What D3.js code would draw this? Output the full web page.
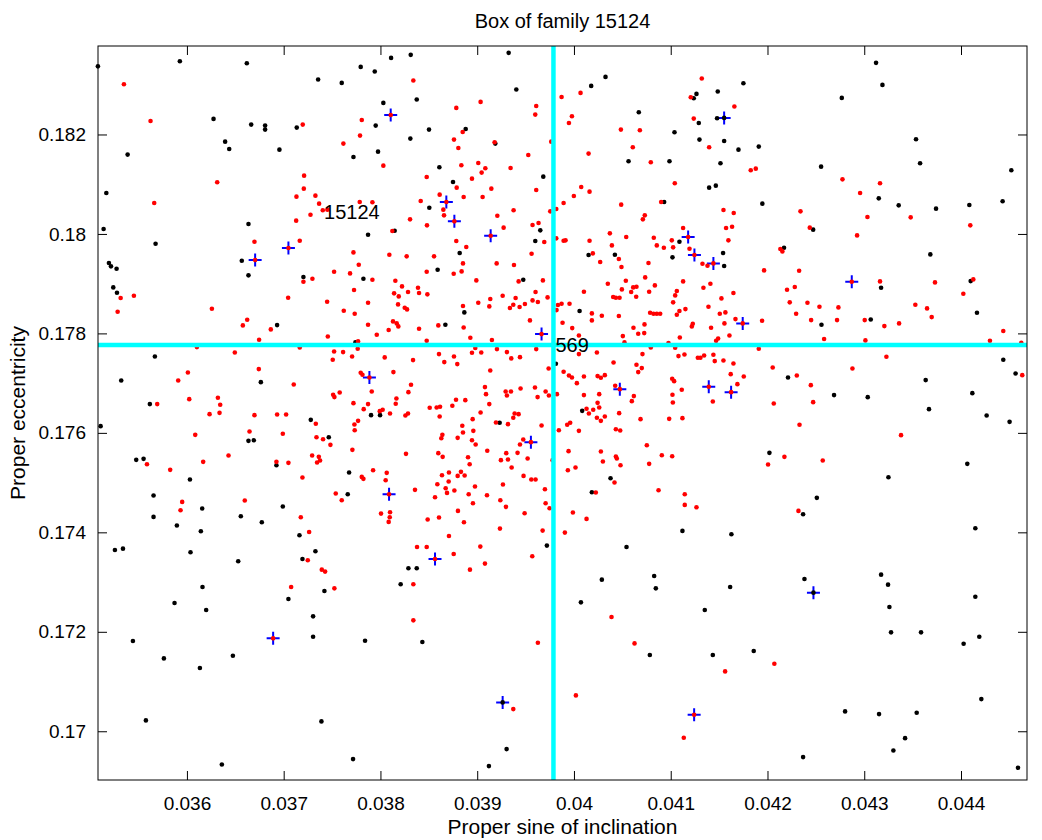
<!DOCTYPE html>
<html>
<head>
<meta charset="utf-8">
<script src="https://cdn.jsdelivr.net/npm/d3@7"></script>
<style>
  body { margin: 0; background: #fff; }
  svg text { font-family: "Liberation Sans", Arial, Helvetica, sans-serif; }
</style>
</head>
<body>
<div id="chart"></div>
<script>
// Box of family 15124: proper sin(i) vs proper e

const title = "Box of family 15124";
const xLabel = "Proper sine of inclination";
const yLabel = "Proper eccentricity";
const xTicks = [0.036, 0.037, 0.038, 0.039, 0.040, 0.041, 0.042, 0.043, 0.044];
const yTicks = [0.170, 0.172, 0.174, 0.176, 0.178, 0.180, 0.182];
const xDomain = [0.035081, 0.044682];
const yDomain = [0.16902, 0.183779];

// crosshair through asteroid 569
const centre = [0.039788, 0.177765];
const labels = [
  { text: "15124", x: 0.037397, y: 0.180451 },
  { text: "569", x: 0.039788, y: 0.177765 }
];

// background asteroids in the box (black)
const blackPts = [
  [0.03508,0.18337],[0.035927,0.183473],[0.036619,0.183433],[0.037356,0.183104],[0.036275,0.182313],[0.036664,0.182199],[0.036808,0.182178],[0.036808,0.182098],[0.037135,0.182138],[0.036395,0.181856],[0.036437,0.181709],[0.036956,0.181695],[0.035387,0.181595],[0.035167,0.180823],[0.035139,0.180099],[0.036636,0.1802],[0.035676,0.179804],[0.036567,0.179462],[0.035194,0.179415],[0.035215,0.179348],[0.035273,0.179301],[0.036636,0.179167],[0.037204,0.179133],[0.035239,0.178925],
  [0.03811,0.18354],[0.038313,0.183601],[0.039325,0.183641],[0.037796,0.183359],[0.037941,0.183265],[0.0376,0.183037],[0.039404,0.182903],[0.03803,0.182635],[0.038375,0.182702],[0.037951,0.182178],[0.038502,0.182098],[0.038881,0.182111],[0.038309,0.181917],[0.039187,0.181816],[0.037975,0.181655],[0.037721,0.181548],[0.038609,0.18134],[0.039683,0.181152],[0.03875,0.181045],[0.038505,0.180528],[0.038147,0.180065],[0.037872,0.179985],[0.039652,0.180072],[0.0396,0.179857],[0.038819,0.179616],[0.038591,0.179281],[0.037824,0.179099],[0.039476,0.179079],
  [0.040326,0.183158],[0.040178,0.182977],[0.041751,0.18303],[0.041486,0.182863],[0.041266,0.182816],[0.041238,0.182728],[0.04067,0.182447],[0.041479,0.182326],[0.041552,0.182333],[0.04129,0.182232],[0.041039,0.182044],[0.041297,0.181897],[0.041552,0.18187],[0.0417,0.181695],[0.04191,0.181756],[0.040564,0.181461],[0.040987,0.181461],[0.041514,0.18142],[0.041397,0.180931],[0.041466,0.180971],[0.040932,0.180642],[0.041947,0.180609],[0.04109,0.179844],[0.040151,0.179576],[0.040423,0.179582],[0.041018,0.179529],[0.041541,0.179616],[0.041552,0.179354],[0.042171,0.179723],
  [0.043122,0.18344],[0.043188,0.182997],[0.042768,0.182735],[0.043535,0.181903],[0.043577,0.18142],[0.042554,0.181353],[0.04452,0.18128],[0.04315,0.180716],[0.043356,0.180575],[0.043742,0.180508],[0.044086,0.180582],[0.04443,0.180656],[0.042472,0.180086],[0.043683,0.179589],[0.0441,0.179052],[0.043174,0.178918],
  [0.035277,0.178818],[0.036932,0.178167],[0.035669,0.177537],[0.035321,0.177054],[0.036764,0.17702],[0.035617,0.176578],[0.035108,0.176135],[0.03728,0.176262],[0.036636,0.17584],[0.036691,0.175853],[0.035476,0.175457],[0.035552,0.175478],[0.036925,0.17535],[0.036031,0.175062],[0.035655,0.17474],[0.036158,0.174478],[0.036991,0.174518],[0.035655,0.17431],[0.036557,0.174324],[0.036774,0.174203],[0.035896,0.174136],[0.036144,0.174022],
  [0.038867,0.178422],[0.038671,0.178174],[0.037741,0.177819],[0.039813,0.177389],[0.037903,0.176356],[0.037996,0.176356],[0.039232,0.176202],[0.037466,0.175913],[0.037676,0.175202],[0.037662,0.174766],
  [0.040058,0.178449],[0.042212,0.177114],[0.040085,0.176443],[0.04202,0.175598],[0.040378,0.175088],[0.040185,0.174807],[0.041121,0.174029],
  [0.044165,0.178416],[0.043067,0.178281],[0.042558,0.178174],[0.044437,0.17747],[0.044564,0.177195],[0.043635,0.177061],[0.042688,0.176759],[0.043036,0.176718],[0.044117,0.176799],[0.043669,0.176477],[0.044265,0.17635],[0.044502,0.176222],[0.044065,0.175377],[0.04325,0.175109],[0.04251,0.174693],[0.042368,0.174364],[0.044148,0.174082],
  [0.037163,0.173941],[0.035256,0.173646],[0.035339,0.173672],[0.036037,0.173599],[0.03653,0.173418],[0.037328,0.173619],[0.037194,0.173464],[0.036161,0.172901],[0.037421,0.17282],[0.037049,0.172659],[0.035872,0.172579],[0.036199,0.172438],[0.037304,0.172311],[0.035442,0.171814],[0.037304,0.171901],[0.035762,0.171465],[0.036475,0.171519],[0.036134,0.171271],[0.035576,0.170218],[0.03739,0.170198],[0.036361,0.169332],
  [0.03972,0.173733],[0.038289,0.173277],[0.038375,0.173277],[0.038209,0.172955],[0.037841,0.171821],[0.038433,0.171794],[0.039263,0.17058],[0.039304,0.169641],[0.039121,0.169299],[0.037717,0.16944],
  [0.041627,0.173961],[0.040543,0.173706],[0.040288,0.173049],[0.040829,0.173122],[0.040846,0.172874],[0.041614,0.172901],[0.040072,0.172592],[0.041352,0.172438],[0.040784,0.171533],[0.041435,0.171533],[0.041858,0.171613],
  [0.042382,0.173062],[0.042475,0.172787],[0.043174,0.173149],[0.043246,0.172948],[0.04326,0.172499],[0.044148,0.172706],[0.043277,0.171989],[0.043587,0.171989],[0.044027,0.171761],[0.044189,0.171901],[0.04421,0.170647],[0.042802,0.170399],[0.043153,0.170345],[0.043542,0.170372],[0.043422,0.169862],[0.043301,0.169614],[0.042368,0.16948],[0.044589,0.169265]
];

// family members (red)
const redPts = [
  [0.035349,0.18301],[0.035624,0.182272],[0.037197,0.182199],[0.036313,0.181038],[0.037211,0.181172],[0.037208,0.180911],[0.037132,0.18075],[0.037328,0.18077],[0.037366,0.180609],[0.037404,0.180475],[0.037452,0.180488],[0.035662,0.180622],[0.037277,0.180387],[0.037129,0.180267],[0.036698,0.179844],[0.037166,0.179864],[0.037204,0.179039],[0.037297,0.179099],[0.036705,0.179475],[0.037049,0.179717],
  [0.03834,0.183084],[0.039035,0.182655],[0.038784,0.182534],[0.03961,0.182574],[0.0396,0.1824],[0.037807,0.182292],[0.037789,0.181977],[0.037617,0.181816],[0.03885,0.182051],[0.03876,0.181897],[0.038805,0.181729],[0.03918,0.181843],[0.039765,0.181856],[0.039528,0.181588],[0.03803,0.181373],[0.038836,0.18138],[0.039011,0.181427],[0.039084,0.18132],[0.039046,0.181233],[0.039345,0.181326],[0.038478,0.181145],[0.038946,0.181112],[0.038788,0.180931],[0.039146,0.180911],[0.03961,0.180884],[0.038612,0.18079],[0.03886,0.180743],[0.039056,0.180743],[0.038416,0.180662],[0.038681,0.180642],[0.037786,0.180642],[0.037917,0.180636],[0.03865,0.180488],[0.038657,0.180374],[0.039208,0.180367],[0.039376,0.180475],[0.039755,0.180454],[0.039817,0.180501],[0.038306,0.180293],[0.038764,0.180253],[0.038481,0.180173],[0.039273,0.180126],[0.039572,0.180179],[0.039634,0.18022],[0.038123,0.180059],[0.039139,0.179965],[0.038784,0.179857],[0.039693,0.179837],[0.039817,0.179911],[0.038887,0.179737],[0.037721,0.179629],[0.038092,0.179582],[0.038271,0.179549],[0.038554,0.179549],[0.039562,0.179603],[0.037776,0.179381],[0.038853,0.179408],[0.039201,0.179408],[0.03938,0.179374],[0.037521,0.17924],[0.037686,0.179207],[0.038478,0.17924],[0.038757,0.1792],[0.038839,0.179247],[0.037917,0.179079],[0.038154,0.179059],[0.038991,0.179066],[0.039428,0.179046],[0.039679,0.179066],[0.038223,0.178945],[0.038388,0.178918],[0.038106,0.182393],
  [0.041321,0.183124],[0.039872,0.182755],[0.040068,0.182836],[0.041207,0.182749],[0.041658,0.182561],[0.039979,0.182366],[0.039948,0.182232],[0.041238,0.182319],[0.040485,0.182098],[0.040681,0.182085],[0.040608,0.181742],[0.041397,0.181742],[0.040151,0.181615],[0.040794,0.181441],[0.041827,0.18128],[0.041879,0.181313],[0.041042,0.181018],[0.040075,0.180944],[0.040161,0.18085],[0.039999,0.180763],[0.039893,0.180622],[0.040488,0.180589],[0.040901,0.180642],[0.041545,0.180481],[0.041651,0.180421],[0.040732,0.180374],[0.040712,0.180293],[0.041128,0.180119],[0.041572,0.180119],[0.041634,0.180146],[0.040371,0.180012],[0.04054,0.179938],[0.040825,0.179924],[0.04118,0.179938],[0.039893,0.179864],[0.039913,0.179871],[0.040161,0.179864],[0.041011,0.179871],[0.041596,0.179871],[0.040392,0.17977],[0.040856,0.17977],[0.040929,0.179723],[0.041025,0.17973],[0.041194,0.179703],[0.041245,0.179576],[0.040195,0.179609],[0.040464,0.179495],[0.040271,0.179435],[0.04077,0.179415],[0.041328,0.179401],[0.04138,0.179361],[0.041441,0.179408],[0.040491,0.179334],[0.042133,0.179696],[0.042154,0.179649],[0.041965,0.179267],[0.040736,0.179126],[0.040536,0.179059],[0.04035,0.178999],[0.040836,0.178965],[0.041128,0.179046],[0.04141,0.178999],[0.040612,0.178925],[0.040646,0.178938],[0.041338,0.178918],
  [0.042775,0.181098],[0.043163,0.181018],[0.042957,0.180823],[0.042341,0.180454],[0.043033,0.18034],[0.04348,0.180334],[0.042437,0.180126],[0.044096,0.180173],[0.042926,0.179971],[0.042327,0.17926],[0.042871,0.179039],[0.043163,0.179046],[0.043731,0.179026],[0.044127,0.179086],[0.042282,0.178932],
  [0.035315,0.178711],[0.035452,0.178758],[0.035284,0.178436],[0.037046,0.178717],[0.037449,0.178637],[0.036258,0.178496],[0.036623,0.178275],[0.036578,0.178161],[0.036867,0.17808],[0.036746,0.177872],[0.037456,0.177939],[0.036495,0.177617],[0.037166,0.177718],[0.036103,0.177725],[0.036743,0.177282],[0.03601,0.177215],[0.03591,0.177054],[0.037104,0.176973],[0.036024,0.176678],[0.03632,0.176705],[0.036344,0.176564],[0.035693,0.176578],[0.036337,0.176403],[0.036234,0.176376],[0.036698,0.176356],[0.036932,0.17637],[0.037025,0.17637],[0.037332,0.176182],[0.036647,0.176028],[0.036991,0.175981],[0.036086,0.17596],[0.037339,0.175913],[0.037407,0.175873],[0.03643,0.175545],[0.037294,0.175545],[0.037363,0.175518],[0.037376,0.175444],[0.037345,0.175404],[0.035587,0.17537],[0.036168,0.175417],[0.036925,0.175417],[0.037049,0.175397],[0.035827,0.175256],[0.037194,0.175102],[0.036598,0.174639],[0.035951,0.174612],[0.035934,0.174444],[0.037177,0.174304],[0.037263,0.174008],
  [0.037727,0.178872],[0.038141,0.178805],[0.038285,0.178832],[0.038399,0.178811],[0.038485,0.178785],[0.038189,0.178744],[0.039263,0.178758],[0.039397,0.178711],[0.039603,0.178832],[0.039135,0.178691],[0.039727,0.178724],[0.039572,0.178664],[0.039627,0.17863],[0.039493,0.17859],[0.039373,0.178577],[0.039338,0.17851],[0.039438,0.17853],[0.039011,0.178617],[0.039125,0.178543],[0.038853,0.17855],[0.037872,0.178617],[0.038182,0.178583],[0.038251,0.178516],[0.038275,0.178483],[0.037621,0.178456],[0.037734,0.178395],[0.039834,0.17857],[0.03982,0.178469],[0.039545,0.178261],[0.03813,0.178241],[0.038168,0.178201],[0.038185,0.178141],[0.037872,0.178174],[0.038598,0.178161],[0.03886,0.17812],[0.038399,0.178094],[0.038085,0.178067],[0.039665,0.177986],[0.037962,0.177973],[0.038929,0.177912],[0.038478,0.177852],[0.039152,0.177866],[0.037769,0.177839],[0.037765,0.177691],[0.03961,0.177684],[0.03898,0.177705],[0.038946,0.177611],[0.039204,0.177684],[0.039042,0.177617],[0.039307,0.177624],[0.037521,0.177637],[0.037614,0.177624],[0.037707,0.177537],[0.037507,0.17747],[0.038605,0.177584],[0.03876,0.177537],[0.03866,0.177423],[0.038794,0.177383],[0.038044,0.177517],[0.038337,0.177463],[0.039352,0.177497],[0.039442,0.177523],[0.039738,0.177295],[0.039135,0.177255],[0.037796,0.177208],[0.037814,0.177168],[0.037886,0.177114],[0.038134,0.177222],[0.038316,0.176967],[0.03908,0.17692],[0.038289,0.176819],[0.03791,0.176832],[0.037579,0.176812],[0.037511,0.176765],[0.037524,0.176719],[0.039091,0.176779],[0.039294,0.176832],[0.039349,0.176832],[0.039307,0.176752],[0.039448,0.176893],[0.039597,0.176913],[0.039707,0.176832],[0.039741,0.176752],[0.039624,0.176719],[0.039824,0.176779],[0.038165,0.176692],[0.038158,0.176584],[0.038781,0.176665],[0.038877,0.176658],[0.037721,0.176598],[0.037872,0.176578],[0.038743,0.176544],[0.039125,0.176578],[0.038509,0.176504],[0.038581,0.176511],[0.038616,0.176524],[0.037827,0.176477],[0.037993,0.176437],[0.038023,0.176464],[0.038099,0.17639],[0.038285,0.17639],[0.038258,0.17635],[0.038612,0.176329],[0.039035,0.17641],[0.039387,0.17639],[0.039428,0.176376],[0.039373,0.176303],[0.037769,0.176242],[0.037731,0.176168],[0.037734,0.176054],[0.038953,0.176276],[0.038846,0.176142],[0.038853,0.176007],[0.039194,0.176209],[0.039318,0.176175],[0.039665,0.176148],[0.039844,0.176054],[0.03896,0.176041],[0.03864,0.17596],[0.038629,0.175893],[0.038798,0.1759],[0.038946,0.175853],[0.038984,0.175766],[0.037483,0.175759],[0.039476,0.175867],[0.039555,0.175813],[0.039442,0.175766],[0.03771,0.175659],[0.039104,0.175639],[0.038264,0.175578],[0.038598,0.175592],[0.038643,0.175518],[0.0393,0.175592],[0.039417,0.175598],[0.038905,0.175511],[0.039245,0.175451],[0.039318,0.175464],[0.039521,0.175484],[0.039779,0.175451],[0.038922,0.17537],[0.039356,0.175303],[0.037924,0.175249],[0.038065,0.175196],[0.038636,0.175149],[0.038708,0.175202],[0.038832,0.175216],[0.03887,0.175142],[0.038798,0.175135],[0.037807,0.175115],[0.037824,0.175075],[0.038054,0.175048],[0.038705,0.175021],[0.039479,0.175135],[0.039559,0.175062],[0.039603,0.175062],[0.038588,0.174968],[0.039266,0.174961],[0.038977,0.174921],[0.038674,0.174887],[0.038764,0.17484],[0.038357,0.174854],[0.0397,0.174867],[0.037538,0.17478],[0.0376,0.174646],[0.038089,0.174766],[0.038688,0.174793],[0.038912,0.174766],[0.039101,0.174746],[0.038564,0.174706],[0.039239,0.174646],[0.038956,0.174585],[0.039707,0.174585],[0.039297,0.174512],[0.039748,0.174485],[0.038801,0.174431],[0.038099,0.174404],[0.038006,0.174377],[0.038096,0.174304],[0.038085,0.17421],[0.038605,0.174297],[0.038488,0.174257],[0.038863,0.174203],[0.03949,0.174384],[0.039235,0.174075],[0.039676,0.174035],
  [0.040103,0.178838],[0.040495,0.178885],[0.040591,0.178832],[0.040777,0.178838],[0.041063,0.178852],[0.041648,0.178811],[0.042202,0.178878],[0.039872,0.178597],[0.039954,0.178597],[0.040405,0.178731],[0.040433,0.178717],[0.040471,0.178717],[0.040643,0.178738],[0.041046,0.178764],[0.041025,0.178624],[0.041524,0.178704],[0.04223,0.178624],[0.040185,0.178402],[0.040288,0.178355],[0.040464,0.178349],[0.040787,0.178416],[0.040822,0.178395],[0.040856,0.178395],[0.040891,0.178395],[0.04109,0.178449],[0.041152,0.178489],[0.041063,0.178375],[0.04139,0.178536],[0.041507,0.178395],[0.041565,0.178422],[0.041669,0.178288],[0.041744,0.178201],[0.041944,0.178255],[0.040185,0.178261],[0.039882,0.178214],[0.039982,0.178107],[0.040615,0.178114],[0.040729,0.178181],[0.040664,0.177993],[0.040726,0.178006],[0.041228,0.178194],[0.041218,0.178141],[0.041417,0.178114],[0.041555,0.178201],[0.041607,0.177959],[0.040051,0.177959],[0.040505,0.177946],[0.041094,0.177919],[0.04149,0.177899],[0.041469,0.177852],[0.040522,0.177819],[0.040977,0.177805],[0.040051,0.177584],[0.040794,0.177718],[0.041046,0.177711],[0.04191,0.177691],[0.040237,0.177617],[0.040708,0.177584],[0.04108,0.177544],[0.041142,0.177577],[0.04128,0.17751],[0.041307,0.17751],[0.041345,0.177557],[0.041441,0.17757],[0.041455,0.177443],[0.041545,0.177456],[0.041648,0.177396],[0.040409,0.177416],[0.040646,0.177369],[0.040701,0.177302],[0.040664,0.177222],[0.042054,0.177315],[0.039893,0.177228],[0.039948,0.177155],[0.039979,0.177114],[0.040103,0.177134],[0.040244,0.177141],[0.040278,0.177108],[0.040319,0.177161],[0.04162,0.177181],[0.041755,0.177134],[0.041015,0.177087],[0.041035,0.17704],[0.04003,0.177],[0.041689,0.17698],[0.040426,0.176947],[0.040474,0.176879],[0.041393,0.176926],[0.041624,0.176819],[0.041114,0.176866],[0.040103,0.176759],[0.040261,0.176779],[0.040619,0.176739],[0.041018,0.176765],[0.040598,0.176638],[0.040244,0.176604],[0.041022,0.176611],[0.041435,0.176631],[0.042065,0.176591],[0.040261,0.176511],[0.04013,0.176484],[0.040154,0.17639],[0.040199,0.176464],[0.040467,0.176396],[0.040237,0.176303],[0.040278,0.176242],[0.040319,0.176329],[0.040688,0.176276],[0.040984,0.176282],[0.041121,0.176296],[0.03993,0.176162],[0.039961,0.176202],[0.040433,0.176074],[0.040478,0.176048],[0.040051,0.176041],[0.040753,0.175752],[0.039944,0.175632],[0.040278,0.175625],[0.040908,0.175551],[0.041015,0.175531],[0.040433,0.175524],[0.040443,0.175484],[0.042175,0.175518],[0.042006,0.175363],[0.040299,0.175424],[0.040481,0.17535],[0.040777,0.175377],[0.039937,0.175249],[0.040016,0.175303],[0.040419,0.175001],[0.040226,0.1748],[0.040874,0.174847],[0.041145,0.174766],[0.041145,0.174552],[0.041266,0.174505],[0.039989,0.174398],[0.04013,0.17427],[0.039906,0.173995],
  [0.044024,0.178798],[0.042413,0.178617],[0.042537,0.178536],[0.042733,0.178523],[0.043528,0.178577],[0.043649,0.178503],[0.043697,0.178328],[0.042296,0.178395],[0.042451,0.178268],[0.042719,0.178268],[0.043005,0.178268],[0.043208,0.178147],[0.04336,0.178201],[0.044437,0.178047],[0.042585,0.177886],[0.043012,0.177859],[0.044299,0.177852],[0.044623,0.177812],[0.043229,0.17753],[0.042878,0.177295],[0.044633,0.177161],[0.042303,0.177155],[0.042448,0.17696],[0.042472,0.176618],[0.042331,0.176162],[0.04338,0.175954],[0.042571,0.175444],[0.04232,0.174431],
  [0.037249,0.173438],[0.037394,0.17325],[0.037428,0.17321],[0.037077,0.172901],[0.036891,0.171868],
  [0.038708,0.173927],[0.038378,0.173706],[0.038478,0.173706],[0.039032,0.173713],[0.038564,0.173464],[0.038757,0.173565],[0.039569,0.173518],[0.03908,0.173371],[0.038925,0.17325],[0.03834,0.172955],[0.037524,0.172874],[0.03834,0.17223],[0.039627,0.171781],[0.039373,0.170446],
  [0.040388,0.172297],[0.040626,0.171767],[0.042071,0.171358],[0.041562,0.171204],[0.04002,0.170721],[0.041242,0.170332],[0.041135,0.169869]
];

// marked members (blue +)
const plusPts = [
  [0.036705,0.179475],[0.037049,0.179717],[0.038106,0.182393],[0.038681,0.180642],[0.038764,0.180253],[0.039139,0.179965],
  [0.041552,0.182333],[0.04118,0.179938],[0.041245,0.179576],[0.041441,0.179408],[0.042871,0.179039],[0.039665,0.177986],
  [0.037886,0.177114],[0.039555,0.175813],[0.038089,0.174766],[0.041744,0.178201],[0.040474,0.176879],[0.041393,0.176926],
  [0.041624,0.176819],[0.036891,0.171868],[0.038564,0.173464],[0.039263,0.17058],[0.041242,0.170332],[0.042475,0.172787]
];

const width = 1042, height = 840;
const margin = { top: 46, right: 15, bottom: 60, left: 98 };
const innerW = width - margin.left - margin.right;
const innerH = height - margin.top - margin.bottom;

const svg = d3.select("#chart").append("svg")
  .attr("width", width)
  .attr("height", height);

const x = d3.scaleLinear().domain(xDomain).range([margin.left, margin.left + innerW]);
const y = d3.scaleLinear().domain(yDomain).range([margin.top + innerH, margin.top]);

const fmt = d => String(+d.toFixed(3));
const tickLen = 9;

// axes, ticks point inward like matlab
svg.append("g")
  .attr("transform", `translate(0,${margin.top + innerH})`)
  .call(d3.axisBottom(x).tickValues(xTicks).tickFormat(fmt).tickSizeInner(-tickLen).tickSizeOuter(0).tickPadding(17))
  .call(g => g.select(".domain").remove());
svg.append("g")
  .attr("transform", `translate(0,${margin.top})`)
  .call(d3.axisTop(x).tickValues(xTicks).tickFormat("").tickSizeInner(-tickLen).tickSizeOuter(0))
  .call(g => g.select(".domain").remove());
svg.append("g")
  .attr("transform", `translate(${margin.left},0)`)
  .call(d3.axisLeft(y).tickValues(yTicks).tickFormat(fmt).tickSizeInner(-tickLen).tickSizeOuter(0).tickPadding(12))
  .call(g => g.select(".domain").remove());
svg.append("g")
  .attr("transform", `translate(${margin.left + innerW},0)`)
  .call(d3.axisRight(y).tickValues(yTicks).tickFormat("").tickSizeInner(-tickLen).tickSizeOuter(0))
  .call(g => g.select(".domain").remove());

svg.selectAll(".tick text")
  .style("font-size", "19px")
  .attr("fill", "#000");
svg.selectAll(".tick line").attr("stroke", "#000");

// plot area
const plot = svg.append("g");

plot.selectAll(".plus")
  .data(plusPts)
  .join("path")
  .attr("class", "plus")
  .attr("transform", d => `translate(${x(d[0])},${y(d[1])})`)
  .attr("d", "M-6.5,0H6.5M0,-6.5V6.5")
  .attr("stroke", "#0000ff")
  .attr("stroke-width", 2)
  .attr("fill", "none");

plot.selectAll(".bg")
  .data(blackPts)
  .join("circle")
  .attr("class", "bg")
  .attr("cx", d => x(d[0]))
  .attr("cy", d => y(d[1]))
  .attr("r", 2.3)
  .attr("fill", "#000");

plot.selectAll(".fam")
  .data(redPts)
  .join("circle")
  .attr("class", "fam")
  .attr("cx", d => x(d[0]))
  .attr("cy", d => y(d[1]))
  .attr("r", 2.3)
  .attr("fill", "#ff0000");

// cyan crosshair
plot.append("line")
  .attr("x1", x(xDomain[0])).attr("x2", x(xDomain[1]))
  .attr("y1", y(centre[1])).attr("y2", y(centre[1]))
  .attr("stroke", "#00ffff").attr("stroke-width", 4.5);
plot.append("line")
  .attr("x1", x(centre[0])).attr("x2", x(centre[0]))
  .attr("y1", y(yDomain[0])).attr("y2", y(yDomain[1]))
  .attr("stroke", "#00ffff").attr("stroke-width", 4.5);

plot.selectAll(".lbl")
  .data(labels)
  .join("text")
  .attr("class", "lbl")
  .attr("x", d => x(d.x) + 2)
  .attr("y", d => y(d.y))
  .attr("dy", "0.35em")
  .style("font-size", "20px")
  .attr("fill", "#000")
  .text(d => d.text);

// box
svg.append("rect")
  .attr("x", margin.left).attr("y", margin.top)
  .attr("width", innerW).attr("height", innerH)
  .attr("fill", "none").attr("stroke", "#000").attr("stroke-width", 1);

svg.append("text")
  .attr("x", margin.left + innerW / 2)
  .attr("y", 28)
  .attr("text-anchor", "middle")
  .style("font-size", "20px")
  .text(title);

svg.append("text")
  .attr("x", margin.left + innerW / 2)
  .attr("y", 834)
  .attr("text-anchor", "middle")
  .style("font-size", "21px")
  .text(xLabel);

svg.append("text")
  .attr("transform", `translate(25,${margin.top + innerH / 2}) rotate(-90)`)
  .attr("text-anchor", "middle")
  .style("font-size", "21px")
  .text(yLabel);
</script>
</body>
</html>
